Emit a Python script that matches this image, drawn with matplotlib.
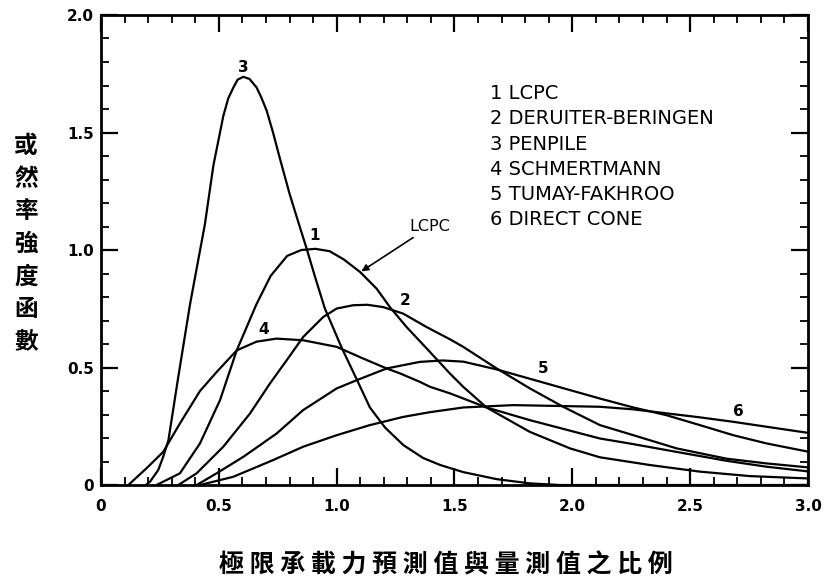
import numpy as np
import matplotlib
matplotlib.use('Agg')
from matplotlib import pyplot as plt
from matplotlib.ticker import MultipleLocator, FixedLocator


lcpc_x = [0.236, 0.335, 0.42, 0.505, 0.576, 0.66, 0.72, 0.79, 0.85, 0.91, 0.97, 1.03, 1.10,
          1.17, 1.226, 1.297, 1.396, 1.48, 1.537, 1.636, 1.82, 1.99, 2.117, 2.33, 2.541, 2.753, 3.0]
lcpc_y = [0.0, 0.05, 0.177, 0.361, 0.573, 0.77, 0.89, 0.975, 1.0, 1.005, 0.995, 0.96, 0.906,
          0.835, 0.757, 0.672, 0.566, 0.475, 0.418, 0.33, 0.226, 0.156, 0.118, 0.085, 0.057, 0.038, 0.028]

deruiter_x = [0.328, 0.406, 0.519, 0.632, 0.717, 0.788, 0.858, 0.943, 1.0, 1.07, 1.13, 1.198,
              1.283, 1.382, 1.481, 1.537, 1.679, 1.82, 1.961, 2.117, 2.259, 2.442, 2.655, 2.824, 3.0]
deruiter_y = [0.0, 0.05, 0.163, 0.304, 0.432, 0.531, 0.63, 0.715, 0.751, 0.765, 0.767, 0.757,
              0.729, 0.672, 0.62, 0.588, 0.496, 0.411, 0.333, 0.255, 0.212, 0.156, 0.112, 0.092, 0.075]

penpile_x = [0.19, 0.208, 0.243, 0.264, 0.286, 0.328, 0.378, 0.441, 0.477, 0.519, 0.54, 0.561,
             0.58, 0.604, 0.63, 0.66, 0.68, 0.703, 0.73, 0.759, 0.80, 0.84, 0.873, 0.91, 0.95,
             1.021, 1.085, 1.141, 1.205, 1.283, 1.367, 1.44, 1.537, 1.679, 1.82, 1.95, 3.0]
penpile_y = [0.0, 0.014, 0.064, 0.12, 0.19, 0.46, 0.77, 1.11, 1.36, 1.57, 1.645, 1.69,
             1.725, 1.737, 1.728, 1.692, 1.65, 1.593, 1.50, 1.39, 1.24, 1.11, 1.005, 0.88, 0.751,
             0.585, 0.45, 0.33, 0.245, 0.17, 0.115, 0.085, 0.055, 0.025, 0.007, 0.0, 0.0]

schmert_x = [0.116, 0.194, 0.264, 0.335, 0.42, 0.49, 0.576, 0.66, 0.745, 0.858, 1.0, 1.113,
             1.212, 1.269, 1.353, 1.396, 1.481, 1.636, 1.82, 2.117, 2.259, 2.442, 2.655, 2.824, 3.0]
schmert_y = [0.0, 0.072, 0.141, 0.262, 0.40, 0.48, 0.573, 0.61, 0.623, 0.616, 0.588, 0.538,
             0.496, 0.475, 0.439, 0.418, 0.39, 0.33, 0.276, 0.198, 0.174, 0.141, 0.103, 0.078, 0.058]

tumay_x = [0.406, 0.491, 0.604, 0.745, 0.858, 1.0, 1.085, 1.212, 1.353, 1.45, 1.537, 1.679,
           1.891, 2.117, 2.259, 2.4, 2.541, 2.683, 2.824, 3.0]
tumay_y = [0.0, 0.05, 0.12, 0.219, 0.319, 0.411, 0.446, 0.496, 0.524, 0.53, 0.525, 0.492,
           0.432, 0.368, 0.33, 0.297, 0.255, 0.212, 0.177, 0.142]

direct_x = [0.42, 0.561, 0.73, 0.858, 1.0, 1.141, 1.283, 1.396, 1.481, 1.537, 1.75, 1.961,
            2.117, 2.259, 2.4, 2.541, 2.683, 2.824, 3.0]
direct_y = [0.0, 0.035, 0.106, 0.163, 0.212, 0.255, 0.29, 0.31, 0.322, 0.33, 0.34, 0.336,
            0.333, 0.322, 0.305, 0.288, 0.269, 0.248, 0.222]

curve_nums = ['1', '2', '3', '4', '5', '6']
curve_names = ['LCPC', 'DERUITER-BERINGEN', 'PENPILE', 'SCHMERTMANN', 'TUMAY-FAKHROO', 'DIRECT CONE']
# where the little curve numbers sit
num_x = [0.908, 1.29, 0.604, 0.689, 1.877, 2.704]
num_y = [1.062, 0.786, 1.777, 0.661, 0.496, 0.311]

x_ticks = [0, 0.5, 1.0, 1.5, 2.0, 2.5, 3.0]
x_ticklabels = ['0', '0.5', '1.0', '1.5', '2.0', '2.5', '3.0']
y_ticks = [0, 0.5, 1.0, 1.5, 2.0]
y_ticklabels = ['0', '0.5', '1.0', '1.5', '2.0']

ylabel = '或然率強度函數'
xlabel = '極限承載力預測值與量測值之比例'

plot_font = ['Liberation Sans Narrow', 'DejaVu Sans']
cjk_font = ['Noto Sans CJK TC', 'DejaVu Sans']


def main():
    fig = plt.figure(figsize=(8.25, 5.79), dpi=100)
    ax = fig.add_axes([0.1224, 0.1623, 0.857, 0.8118])

    curves = [(lcpc_x, lcpc_y), (deruiter_x, deruiter_y), (penpile_x, penpile_y),
              (schmert_x, schmert_y), (tumay_x, tumay_y), (direct_x, direct_y)]
    for xs, ys in curves:
        ax.plot(xs, ys, color='black', lw=1.6, solid_joinstyle='round')

    ax.set_xlim(0, 3.0)
    ax.set_ylim(0, 2.0)

    ax.xaxis.set_major_locator(FixedLocator(x_ticks))
    ax.yaxis.set_major_locator(FixedLocator(y_ticks))
    ax.xaxis.set_minor_locator(MultipleLocator(0.1))
    ax.yaxis.set_minor_locator(MultipleLocator(0.1))
    ax.set_xticklabels(x_ticklabels)
    ax.set_yticklabels(y_ticklabels)
    ax.tick_params(which='both', direction='in', top=True, right=True, color='black')
    ax.tick_params(which='major', length=12, width=1.6)
    ax.tick_params(which='minor', length=5.5, width=1.3)
    ax.tick_params(axis='x', which='major', pad=10)
    ax.tick_params(axis='y', which='major', pad=5)
    for lab in ax.get_xticklabels() + ax.get_yticklabels():
        lab.set_family(plot_font)
        lab.set_fontweight('bold')
        lab.set_fontsize(11)
    for sp in ax.spines.values():
        sp.set_linewidth(2)

    # curve numbers
    for n, tx, ty in zip(curve_nums, num_x, num_y):
        ax.text(tx, ty, n, ha='center', va='center', fontsize=11, fontweight='bold',
                family=plot_font)

    # legend block
    for i, (n, name) in enumerate(zip(curve_nums, curve_names)):
        ax.text(1.65, 1.665 - i * 0.107, f'{n} {name}', ha='left', va='center',
                fontsize=14, family=plot_font)

    ax.annotate('LCPC', xy=(1.10, 0.906), xytext=(1.31, 1.10),
                ha='left', va='center', fontsize=11.5, family=plot_font,
                arrowprops=dict(arrowstyle='-|>', color='black', lw=1.2,
                                mutation_scale=10, shrinkA=1, shrinkB=1))

    fig.text(26 / 825, 1 - 244 / 579, '\n'.join(ylabel), ha='center', va='center',
             fontsize=17, fontweight='bold', family=cjk_font, linespacing=1.45)
    fig.text(446 / 825, 1 - 565 / 579, ' '.join(xlabel), ha='center', va='center',
             fontsize=18, fontweight='bold', family=cjk_font)

    fig.savefig('out.png', dpi=100)


if __name__ == '__main__':
    main()
